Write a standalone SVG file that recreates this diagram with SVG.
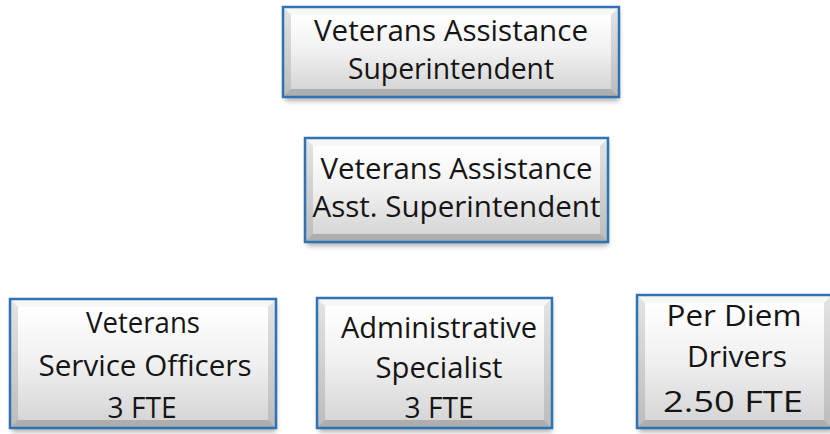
<svg xmlns="http://www.w3.org/2000/svg" width="830" height="434" viewBox="0 0 830 434">
<defs>
<linearGradient id="face" x1="0" y1="0" x2="0" y2="1">
<stop offset="0" stop-color="#ffffff"/>
<stop offset="0.5" stop-color="#f0f0f0"/>
<stop offset="1" stop-color="#d6d6d6"/>
</linearGradient>
<linearGradient id="side" x1="0" y1="0" x2="0" y2="1">
<stop offset="0" stop-color="#e4e4e4"/>
<stop offset="1" stop-color="#bcbcbc"/>
</linearGradient>
<filter id="sh" x="-10%" y="-10%" width="120%" height="140%">
<feGaussianBlur stdDeviation="2.5"/>
</filter>
<style>
.shadow{fill:#6e6e6e;opacity:0.55;filter:url(#sh)}
.side{fill:url(#side)}
.top{fill:#f7f7f7}
.bot{fill:#aeaeae}
.face{fill:url(#face)}
.border{fill:none;stroke:#2e74b5;stroke-width:2.5}
text{font-family:"Open Sans","Liberation Sans",Arial,sans-serif;font-size:30px;fill:#151515;text-anchor:middle}
</style>
</defs>
<rect width="830" height="434" fill="#ffffff"/>
<g id="connectors"></g>

<g id="superintendent">
<rect class="shadow" x="285" y="11" width="334" height="90"/>
<rect class="side" x="283" y="7" width="336" height="90"/>
<polygon class="top" points="283,7 619,7 611,15 291,15"/>
<polygon class="bot" points="283,97 619,97 611,89 291,89"/>
<rect class="face" x="291" y="15" width="320" height="74"/>
<rect class="border" x="283" y="7" width="336" height="90"/>
<text x="451" y="41" textLength="274" lengthAdjust="spacingAndGlyphs">Veterans Assistance</text>
<text x="451" y="79" textLength="206" lengthAdjust="spacingAndGlyphs">Superintendent</text>
</g>

<g id="asst-superintendent">
<rect class="shadow" x="307" y="142" width="301" height="104"/>
<rect class="side" x="305" y="138" width="303" height="104"/>
<polygon class="top" points="305,138 608,138 600,146 313,146"/>
<polygon class="bot" points="305,242 608,242 600,234 313,234"/>
<rect class="face" x="313" y="146" width="287" height="88"/>
<rect class="border" x="305" y="138" width="303" height="104"/>
<text x="456.5" y="179" textLength="272" lengthAdjust="spacingAndGlyphs">Veterans Assistance</text>
<text x="456.5" y="217" textLength="288" lengthAdjust="spacingAndGlyphs">Asst. Superintendent</text>
</g>

<g id="service-officers">
<rect class="shadow" x="12" y="303" width="264" height="129"/>
<rect class="side" x="10" y="299" width="266" height="129"/>
<polygon class="top" points="10,299 276,299 268,307 18,307"/>
<polygon class="bot" points="10,428 276,428 268,420 18,420"/>
<rect class="face" x="18" y="307" width="250" height="113"/>
<rect class="border" x="10" y="299" width="266" height="129"/>
<text x="143" y="333" textLength="114" lengthAdjust="spacingAndGlyphs">Veterans</text>
<text x="145" y="376" textLength="213" lengthAdjust="spacingAndGlyphs">Service Officers</text>
<text x="142" y="418" textLength="69" lengthAdjust="spacingAndGlyphs">3 FTE</text>
</g>

<g id="admin-specialist">
<rect class="shadow" x="319" y="302" width="233" height="130"/>
<rect class="side" x="317" y="298" width="235" height="130"/>
<polygon class="top" points="317,298 552,298 544,306 325,306"/>
<polygon class="bot" points="317,428 552,428 544,420 325,420"/>
<rect class="face" x="325" y="306" width="219" height="114"/>
<rect class="border" x="317" y="298" width="235" height="130"/>
<text x="439" y="338" textLength="196" lengthAdjust="spacingAndGlyphs">Administrative</text>
<text x="439" y="378" textLength="127" lengthAdjust="spacingAndGlyphs">Specialist</text>
<text x="439" y="418" textLength="69" lengthAdjust="spacingAndGlyphs">3 FTE</text>
</g>

<g id="per-diem-drivers">
<rect class="shadow" x="639" y="299" width="193" height="133"/>
<rect class="side" x="637" y="295" width="195" height="133"/>
<polygon class="top" points="637,295 832,295 824,303 645,303"/>
<polygon class="bot" points="637,428 832,428 824,420 645,420"/>
<rect class="face" x="645" y="303" width="179" height="117"/>
<rect class="border" x="637" y="295" width="195" height="133"/>
<text x="734" y="326" textLength="135" lengthAdjust="spacingAndGlyphs">Per Diem</text>
<text x="737" y="367" textLength="100" lengthAdjust="spacingAndGlyphs">Drivers</text>
<text x="733" y="412" textLength="140" lengthAdjust="spacingAndGlyphs">2.50 FTE</text>
</g>
</svg>
